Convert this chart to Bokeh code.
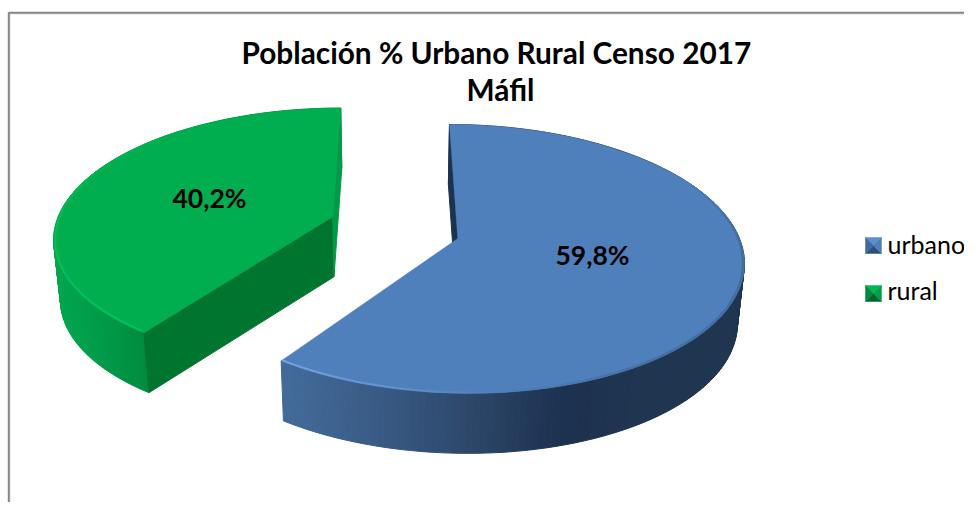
import numpy as np
from bokeh.plotting import figure
from bokeh.models import Range1d
from bokeh.core.properties import value
from bokeh.embed import file_html
from bokeh.resources import INLINE

# ---- data ----
categories = ["urbano", "rural"]
shares = [59.8, 40.2]
title_lines = ["Población  % Urbano Rural Censo 2017", "Máfil"]

# ---- styles / projection ----
top_colors = ["#4f80bb", "#00ae4f"]
cx, cy, a, b, k = 394.0, 227.0, 278.0, 128.0, 0.15
ex, ey = 0.236, 0.28
depth = 60.0
shrink = 0.98


def hex2rgb(h):
    return np.array([int(h[i:i + 2], 16) for i in (1, 3, 5)], float)


def ramp(x, xs, cols):
    rgb = np.array([hex2rgb(c) for c in cols])
    return "#%02x%02x%02x" % tuple(int(round(np.interp(x, xs, rgb[:, i]))) for i in range(3))


def project(t, r, bis, low=False):
    """t: clockwise angle from north in degrees, r: radius share of the disc."""
    t, bis = np.radians(t), np.radians(bis)
    U = ex * np.sin(bis) + r * np.sin(t)
    V = ey * np.cos(bis) + r * np.cos(t)
    w = 1 + k * V
    x = a * U / w
    y = -b * V / w
    if low:
        x = x * shrink
        y = y + depth
    return cx + x, cy + y


p = figure(width=964, height=502, x_range=Range1d(0, 964), y_range=Range1d(502, 0),
           output_backend="svg", toolbar_location=None, min_border=0,
           outline_line_color=None, background_fill_color="white")
p.axis.visible = False
p.grid.visible = False

# chart frame
p.line([9.6, 9.6], [502, 13], line_color="#e2e2e2", line_width=1)
p.line([10, 964], [13.6, 13.6], line_color="#e2e2e2", line_width=1)
p.line([8.3, 8.3], [502, 12], line_color="#868686", line_width=2)
p.line([8, 964], [12.2, 12.2], line_color="#868686", line_width=2)

sweeps = np.array(shares) / sum(shares) * 360
starts = [0.0, sweeps[0]]
wall_ramps = [
    ([288, 400, 480, 560, 640, 742], ["#426a99", "#36567f", "#2b4567", "#1d3150", "#1f3550", "#1f3550"]),
    ([55, 100, 149], ["#00a64f", "#009a48", "#00893f"]),
]
# radial walls: (angle is start or end of the slice, colour); None = hidden
radial_walls = [("#1c3350", None), ("#00752f", "#009a4a")]

for idx in [1, 0]:
    st, sw = starts[idx], sweeps[idx]
    en = st + sw
    bis = st + sw / 2
    ts = np.linspace(st, en, 181)

    # outer wall as narrow quads
    xs, ys, cols = [], [], []
    for t0, t1 in zip(ts[:-1], ts[1:]):
        x0, y0 = project(t0, 1, bis)
        x1, y1 = project(t1, 1, bis)
        x2, y2 = project(t1, 1, bis, True)
        x3, y3 = project(t0, 1, bis, True)
        xs.append([x0, x1, x2, x3])
        ys.append([y0, y1, y2, y3])
        cols.append(ramp((x0 + x1) / 2, *wall_ramps[idx]))
    p.patches(xs, ys, fill_color=cols, line_color=cols, line_width=1)

    # radial walls
    ax, ay = project(0, 0, bis)
    bx, by = project(0, 0, bis, True)
    for t, col in zip((st, en), radial_walls[idx]):
        if col is None:
            continue
        ox, oy = project(t, 1, bis)
        qx, qy = project(t, 1, bis, True)
        p.patch([ox, ax, bx, qx], [oy, ay, by, qy], fill_color=col, line_color=col, line_width=1)

    # top face
    ex_pts = [project(t, 1, bis) for t in ts]
    p.patch([ax] + [q[0] for q in ex_pts], [ay] + [q[1] for q in ex_pts],
            fill_color=top_colors[idx], line_color=top_colors[idx], line_width=0.5)

    # bevel on the visible rim
    if idx == 0:
        rim_t, rim_c = [60, 95, 150, 175, 195, 215.3], ["#4f80bb", "#41699b", "#466f a3".replace(" ", ""), "#4f80bb", "#6493cf", "#74a4e2"]
    else:
        rim_t, rim_c = [215.3, 250, 275, 300, 320], ["#00c460", "#00c25c", "#00bc56", "#00b352", "#00ae4f"]
    rt = ts[(ts >= rim_t[0]) & (ts <= rim_t[-1])]
    rx, ry, rc = [], [], []
    for t0, t1 in zip(rt[:-1], rt[1:]):
        x0, y0 = project(t0, 0.995, bis)
        x1, y1 = project(t1, 0.995, bis)
        rx.append([x0, x1])
        ry.append([y0, y1])
        rc.append(ramp((t0 + t1) / 2, rim_t, rim_c))
    p.multi_line(rx, ry, line_color=rc, line_width=2)

# texts
p.text([499.5], [52], text=[title_lines[0]], text_font=value("Lato"), text_font_style="bold",
       text_font_size="29.8px", text_color="black", text_align="center", text_baseline="middle")
p.text([500], [89], text=[title_lines[1]], text_font=value("Lato"), text_font_style="bold",
       text_font_size="29.8px", text_color="black", text_align="center", text_baseline="middle")
p.text([592, 209], [254, 197], text=[("%.1f%%" % s).replace(".", ",") for s in shares],
       text_font=value("Lato"), text_font_style="bold", text_font_size="26.5px",
       text_color="black", text_align="center", text_baseline="middle")

# legend
leg_y = [245, 293]
leg_text_y = [243, 289]
leg_cols = [("#5b8fd0", "#2f5078", "#3f6a9f", "#4f80bb"), ("#00b854", "#00682c", "#008a3f", "#00a04a")]
for yc, cs in zip(leg_y, leg_cols):
    l, r, t, bt = 865, 881, yc - 8, yc + 8
    mx, my = (l + r) / 2, yc
    p.patches([[l, r, mx], [l, r, mx], [l, l, mx], [r, r, mx]],
              [[t, t, my], [bt, bt, my], [t, bt, my], [t, bt, my]],
              fill_color=[cs[0], cs[1], cs[2], cs[3]], line_color=[cs[0], cs[1], cs[2], cs[3]], line_width=0.5)
p.text([887, 887], leg_text_y, text=categories, text_font=value("Lato"), text_font_size="25px",
       text_color="black", text_align="left", text_baseline="middle")

open("out.html", "w").write(file_html(p, INLINE))
